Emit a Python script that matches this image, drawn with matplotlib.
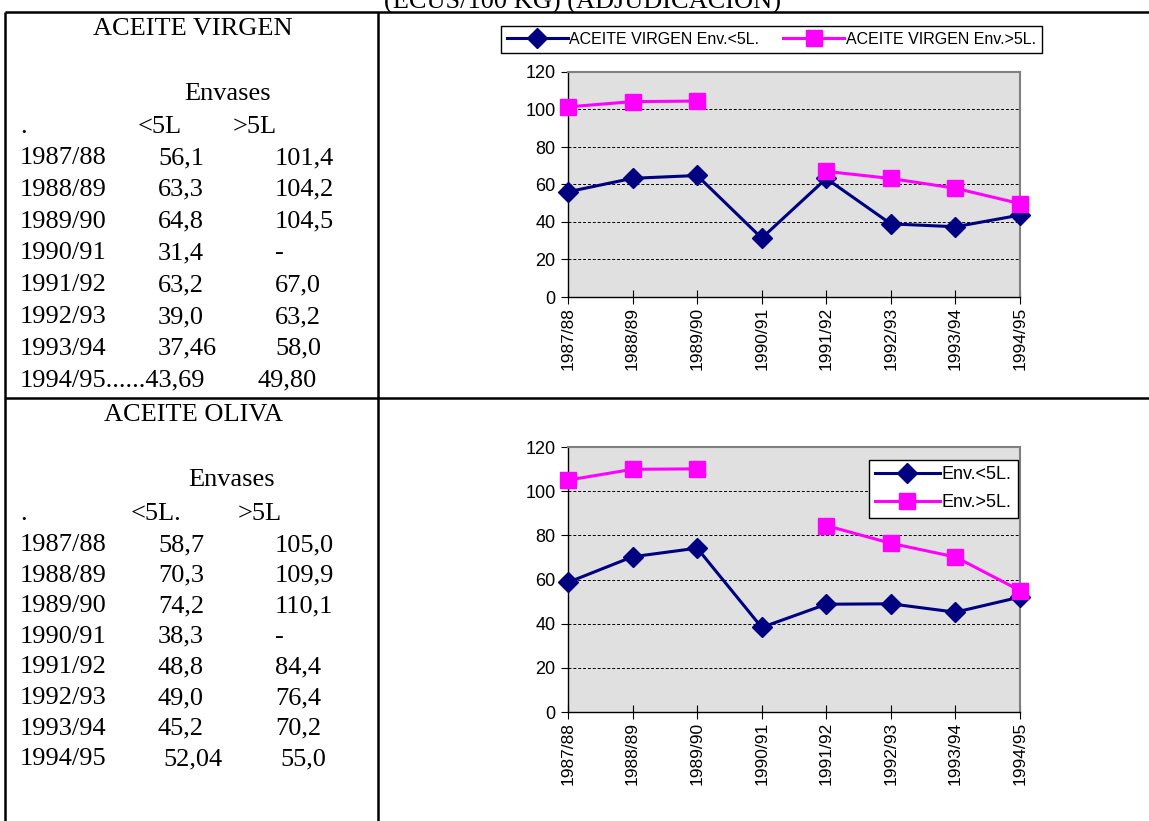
import numpy as np
import matplotlib
matplotlib.use("Agg")
import matplotlib.pyplot as plt

W, H = 1149, 821

years = ["1987/88", "1988/89", "1989/90", "1990/91",
         "1991/92", "1992/93", "1993/94", "1994/95"]

# precios tal como figuran en la tabla (coma decimal, "-" = sin adjudicación)
virgen_menor_txt = ["56,1", "63,3", "64,8", "31,4", "63,2", "39,0", "37,46", "43,69"]
virgen_mayor_txt = ["101,4", "104,2", "104,5", "-", "67,0", "63,2", "58,0", "49,80"]
oliva_menor_txt = ["58,7", "70,3", "74,2", "38,3", "48,8", "49,0", "45,2", "52,04"]
oliva_mayor_txt = ["105,0", "109,9", "110,1", "-", "84,4", "76,4", "70,2", "55,0"]


def to_num(vals):
    return np.array([np.nan if v == "-" else float(v.replace(",", ".")) for v in vals])


virgen_menor = to_num(virgen_menor_txt)
virgen_mayor = to_num(virgen_mayor_txt)
oliva_menor = to_num(oliva_menor_txt)
oliva_mayor = to_num(oliva_mayor_txt)

SERIF = "Liberation Serif"
SANS = "Liberation Sans"
NAVY = "#000080"
MAGENTA = "#ff00ff"

fig = plt.figure(figsize=(W / 100, H / 100), dpi=100)

# ── tabla de fondo: bordes y texto ─────────────────────────────────
bg = fig.add_axes([0, 0, 1, 1], zorder=0)
bg.set_xlim(0, W)
bg.set_ylim(H, 0)
bg.axis("off")

for xs, ys in [([5, W], [12, 12]), ([5, W], [398, 398]),
               ([5, 5], [12, H]), ([378, 378], [12, H])]:
    bg.plot(xs, ys, color="black", lw=1.8, clip_on=False, solid_capstyle="butt")

bg.text(582, 9, "(ECUS/100 KG) (ADJUDICACION)", ha="center", va="baseline",
        family=SERIF, fontsize=19)

txt = dict(family=SERIF, fontsize=19, va="center")


def draw_table(y_title, title, y_env, x_env, y_head, x_heads, y0, dy,
               menor_txt, mayor_txt, x1, x2, last_row):
    bg.text(193, y_title, title, ha="center", **txt)
    bg.text(x_env, y_env, "Envases", ha="center", **txt)
    bg.text(20, y_head, ".", **txt)
    bg.text(x_heads[0], y_head, x_heads[2], **txt)
    bg.text(x_heads[1], y_head, ">5L", **txt)
    for i, yr in enumerate(years[:-1]):
        y = y0 + dy * i
        bg.text(20, y, yr, **txt)
        bg.text(x1, y, menor_txt[i], **txt)
        bg.text(x2, y, mayor_txt[i], **txt)
    y = y0 + dy * (len(years) - 1)
    last_label, lx1, lx2 = last_row
    bg.text(20, y, last_label, **txt)
    if lx1 is not None:
        bg.text(lx1, y, menor_txt[-1], **txt)
    bg.text(lx2, y, mayor_txt[-1], **txt)


draw_table(29, "ACEITE VIRGEN", 94, 228, 127, (138, 233, "<5L"), 158, 31.8,
           virgen_menor_txt, virgen_mayor_txt, 158, 275,
           ("1994/95......" + virgen_menor_txt[-1], None, 258))
draw_table(415, "ACEITE OLIVA", 480, 232, 514, (131, 238, "<5L."), 545, 30.6,
           oliva_menor_txt, oliva_mayor_txt, 158, 275,
           ("1994/95", 163, 280))


# ── gráficos ───────────────────────────────────────────────────────
def draw_chart(rect, menor, mayor, lab_menor, lab_mayor):
    ax = fig.add_axes(rect, zorder=2)
    x = np.arange(len(years))
    ax.set_facecolor("#e0e0e0")
    ax.plot(x, menor, color=NAVY, lw=2.2, marker="D", ms=10, label=lab_menor,
            clip_on=False, zorder=3)
    ax.plot(x, mayor, color=MAGENTA, lw=2.2, marker="s", ms=12, label=lab_mayor,
            clip_on=False, zorder=4)
    ax.set_xlim(0, len(years) - 1)
    ax.set_ylim(0, 120)
    ax.set_yticks(range(0, 121, 20))
    ax.set_xticks(x)
    ax.set_xticklabels(years, rotation=90)
    ax.yaxis.grid(True, color="black", ls=(0, (3, 2)), lw=0.7)
    ax.set_axisbelow(True)
    for s in ["top", "right"]:
        ax.spines[s].set_color("#808080")
        ax.spines[s].set_linewidth(1.5)
    for s in ["left", "bottom"]:
        ax.spines[s].set_color("black")
        ax.spines[s].set_linewidth(1.0)
    ax.tick_params(axis="y", direction="out", length=5, labelsize=13, pad=4)
    ax.tick_params(axis="x", direction="inout", length=10, labelsize=12.5, pad=2)
    for lab in ax.get_xticklabels() + ax.get_yticklabels():
        lab.set_family(SANS)
    return ax


left = 568 / W
width = (1020 - 568) / W
ax1 = draw_chart([left, 1 - 297 / H, width, (297 - 72) / H],
                 virgen_menor, virgen_mayor,
                 "ACEITE VIRGEN Env.<5L.", "ACEITE VIRGEN Env.>5L.")
ax2 = draw_chart([left, 1 - 712 / H, width, (712 - 447) / H],
                 oliva_menor, oliva_mayor, "Env.<5L.", "Env.>5L.")

leg1 = ax1.legend(loc="center", bbox_to_anchor=(771.5 / W, 1 - 39.5 / H),
                  bbox_transform=fig.transFigure, ncol=2, frameon=True,
                  fancybox=False, edgecolor="black", framealpha=1,
                  prop={"family": SANS, "size": 11.5}, handlelength=3.8,
                  columnspacing=1.5, borderpad=0.4, handletextpad=0.1)
leg1.get_frame().set_linewidth(1.0)

leg2 = ax2.legend(loc="upper right", bbox_to_anchor=(1027 / W, 1 - 451 / H),
                  bbox_transform=fig.transFigure, frameon=True,
                  fancybox=False, edgecolor="black", framealpha=1,
                  prop={"family": SANS, "size": 13}, handlelength=3.6,
                  borderpad=0.35, handletextpad=0.1, labelspacing=0.6)
leg2.get_frame().set_linewidth(1.0)

fig.savefig("out.png", dpi=100)
